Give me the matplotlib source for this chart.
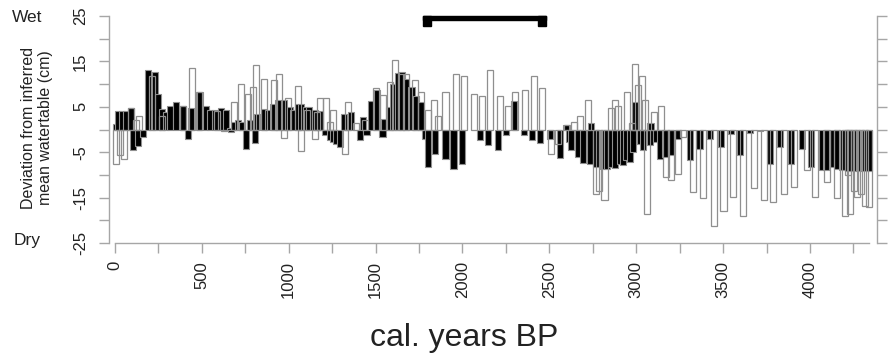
"""
Inferred watertable deviation, two reconstructions (black / open bars),
with the highlighted period bracket on top. Saves out.png.
"""

import matplotlib
matplotlib.use("Agg")
import matplotlib.pyplot as plt
from matplotlib.patches import Rectangle

plt.rcParams['font.family'] = ['Liberation Sans', 'DejaVu Sans']

# filled series (cal. years BP of bar left edge, cm)
black_age = [-13, 0, 25, 48, 77, 88, 115, 144, 173, 211, 232, 255, 278, 297,
             332, 374, 403, 420, 470, 508, 531, 556, 595, 624, 643, 650, 666,
             691, 716, 739, 758, 786, 800, 842, 863, 892, 921, 955, 988, 1007,
             1036, 1055, 1084, 1100, 1132, 1160, 1190, 1219, 1240, 1257, 1276,
             1300, 1340, 1391, 1410, 1430, 1458, 1490, 1522, 1530, 1560, 1583,
             1612, 1635, 1660, 1689, 1717, 1746, 1765, 1784, 1822, 1885, 1931,
             1980, 2085, 2129, 2187, 2235, 2279, 2336, 2382, 2430, 2484, 2542,
             2576, 2595, 2609, 2647, 2676, 2714, 2720, 2752, 2790, 2815, 2839,
             2862, 2887, 2905, 2925, 2945, 2963, 2975, 3002, 3021, 3060, 3065,
             3098, 3117, 3150, 3184, 3223, 3290, 3347, 3405, 3468, 3526, 3578,
             3640, 3697, 3751, 3812, 3876, 3937, 3991, 4054, 4077, 4116, 4140,
             4169, 4200, 4235, 4265, 4295, 4320]
black_val = [1.2, 4.0, 4.0, 4.0, 4.7, -4.5, -3.7, -1.7, 13.0, 12.6, 7.9, 4.6,
             3.8, 5.1, 6.0, 5.1, -2.2, 4.8, 8.2, 5.1, 4.2, 4.3, 4.7, 4.2, 0.4,
             -0.6, 1.6, 2.2, 1.6, -4.3, 2.2, -3.0, 3.4, 4.5, 4.2, 5.7, 6.4, 6.4,
             4.9, 4.3, 5.7, 5.7, 4.9, 4.9, 4.2, 4.0, -1.2, -2.4, -2.8, -3.2,
             -3.8, 3.5, 3.8, -2.4, 2.7, -1.2, 6.2, 8.6, -1.7, 2.3, 4.9, 10.0,
             12.4, 12.6, 11.2, 9.3, 7.3, 6.0, -2.2, -8.3, -5.4, -6.5, -8.7,
             -7.7, -2.4, -3.5, -4.6, -1.2, 6.3, -1.2, -2.4, -3.0, -2.0, -6.3,
             1.0, -2.8, -4.6, -6.1, -7.4, -7.7, 1.5, -8.3, -8.7, -8.6, -8.2,
             -8.4, -7.6, -7.8, -6.8, -7.2, -5.0, 6.0, -3.2, -4.6, -3.5, 1.5,
             -2.8, -6.5, -6.1, -5.7, -2.1, -6.8, -4.3, -2.1, -3.8, -1.1, -5.6,
             -0.8, -0.4, -7.7, -3.8, -7.7, -4.3, -8.3, -8.9, -9.0, -8.2, -8.7,
             -9.0, -9.2, -9.2, -9.2, -9.2, -9.2]

# open series
white_age = [-13, 10, 33, 77, 105, 120, 197, 255, 372, 427, 468, 570, 610, 667,
             708, 746, 775, 794, 842, 898, 924, 955, 978, 1036, 1055, 1090,
             1132, 1145, 1160, 1199, 1218, 1237, 1304, 1323, 1370, 1420, 1486,
             1525, 1563, 1592, 1630, 1659, 1707, 1745, 1784, 1818, 1841, 1885,
             1943, 1989, 2047, 2095, 2139, 2196, 2244, 2286, 2342, 2392, 2438,
             2494, 2530, 2584, 2622, 2657, 2705, 2752, 2770, 2800, 2839, 2858,
             2877, 2931, 2960, 2977, 2995, 3015, 3031, 3046, 3084, 3123, 3155,
             3184, 3223, 3250, 3309, 3366, 3428, 3485, 3540, 3598, 3659, 3716,
             3770, 3832, 3889, 3966, 4010, 4083, 4139, 4183, 4200, 4215, 4235,
             4255, 4279, 4298, 4323]
white_val = [-7.7, -5.7, -6.6, 4.7, 2.2, 3.0, 11.7, 3.0, 5.1, 13.5, 8.2, 4.0,
             -0.4, 6.0, 10.0, 7.9, 9.3, 14.1, 11.2, 11.0, 12.3, -1.8, 6.9, 9.6,
             -4.8, 4.2, -2.2, 3.8, 6.9, 6.9, 1.6, 4.2, -5.4, 6.0, 1.5, 2.0, 9.1,
             7.6, 10.4, 15.2, 12.3, 12.3, 11.0, 8.2, 4.2, 6.5, 2.9, 8.2, 12.3,
             11.7, 7.9, 7.3, 13.0, 7.3, 5.1, 8.2, 8.8, 11.7, 9.1, -5.4, -3.2,
             1.0, 1.6, 2.9, 6.4, -14.2, -13.5, -15.5, 4.8, 6.4, 5.1, 8.2, 1.5,
             14.5, 9.9, 11.8, 6.4, -18.6, 3.8, 5.1, -10.5, -11.2, -9.7, -1.7,
             -13.8, -15.1, -21.2, -17.9, -14.8, -19.0, -12.9, -15.5, -16.0,
             -14.2, -12.6, -9.0, -14.8, -11.6, -15.1, -19.0, -10.1, -18.6,
             -13.5, -14.9, -14.2, -16.8, -17.1]

bar_width = 35
period = (1775, 2480)      # bracket on top

y_ticks = list(range(-25, 30, 5))
y_labelled = [25, 15, 5, -5, -15, -25]
x_ticks = list(range(0, 4500, 250))

axis_col = "#a6a6a6"
edge_col = "#8f8f8f"

fig = plt.figure(figsize=(8.95, 3.57), dpi=100)
ax = fig.add_axes([109 / 895, 1 - 243 / 357, 768 / 895, 227 / 357])

ax.bar(black_age, black_val, width=bar_width, align="edge", color="black",
       edgecolor=edge_col, linewidth=0.8, zorder=2)
ax.bar(white_age, white_val, width=bar_width, align="edge", facecolor="none",
       edgecolor=edge_col, linewidth=0.9, zorder=3)

# bracket: bar plus end caps
ax.add_patch(Rectangle((period[0], 24.2), period[1] - period[0], 0.9,
                       color="black", clip_on=False, zorder=4))
for x0 in (period[0], period[1] - 45):
    ax.add_patch(Rectangle((x0, 22.9), 45, 2.2, color="black",
                           clip_on=False, zorder=4))

ax.set_xlim(-34.5, 4386)
ax.set_ylim(-25, 25)

ax.spines["top"].set_visible(False)
for s in ("left", "right", "bottom"):
    ax.spines[s].set_color(axis_col)
    ax.spines[s].set_linewidth(1.0)
ax.spines["left"].set_bounds(-25, 25)
ax.spines["right"].set_bounds(-25, 25)
ax.spines["bottom"].set_bounds(0, 4340)

ax.set_yticks(y_ticks)
ax.set_yticklabels([str(v) if v in y_labelled else "" for v in y_ticks])
ax.set_xticks(x_ticks)
ax.set_xticklabels([str(v) if v % 500 == 0 else "" for v in x_ticks])
ax.tick_params(axis="y", right=True, labelright=False, length=7, width=1.0,
               color=axis_col, labelsize=12, pad=8, labelrotation=90,
               labelcolor="#222222")
ax.tick_params(axis="x", length=7, width=1.0, color=axis_col, labelsize=12,
               pad=6, labelrotation=90, labelcolor="#222222")
for lbl in ax.get_yticklabels():
    lbl.set_va("center")

fig.text(37 / 895, 1 - 128 / 357, "Deviation from inferred\nmean watertable (cm)",
         rotation=90, ha="center", va="center", multialignment="center",
         fontsize=11.5, linespacing=1.15, color="#222222")
fig.text(27 / 895, 1 - 17 / 357, "Wet", ha="center", va="center",
         fontsize=12.5, color="#222222")
fig.text(27 / 895, 1 - 240 / 357, "Dry", ha="center", va="center",
         fontsize=12.5, color="#222222")
fig.text(464 / 895, 1 - 338 / 357, "cal. years BP", ha="center", va="center",
         fontsize=23, color="#222222")

fig.savefig("out.png", dpi=100)
